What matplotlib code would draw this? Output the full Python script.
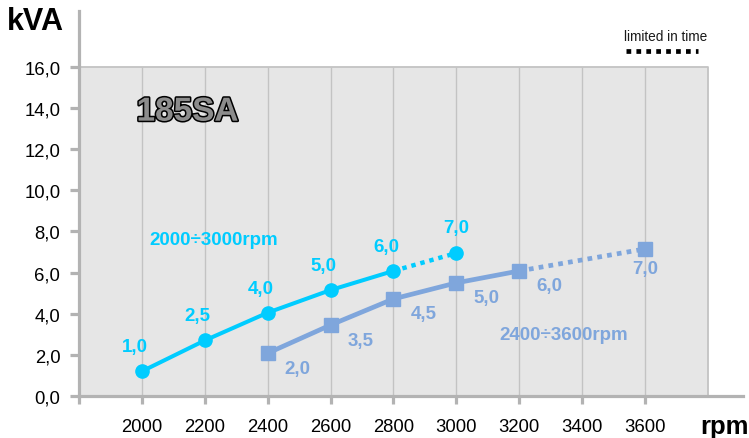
"""Power curve of the 185SA generator: kVA against rpm for two speed ranges."""

import matplotlib

matplotlib.use("Agg")
import matplotlib.pyplot as plt
import matplotlib.patheffects as pe
from matplotlib.lines import Line2D
from matplotlib.patches import Rectangle

plt.rcParams["font.family"] = ["Liberation Sans", "DejaVu Sans"]

# low range 2000-3000 rpm (last segment is "limited in time")
low_rpm = [2000, 2200, 2400, 2600, 2800, 3000]
low_kva = [1.2, 2.7, 4.05, 5.15, 6.08, 6.95]
low_labels = ["1,0", "2,5", "4,0", "5,0", "6,0", "7,0"]

# high range 2400-3600 rpm (last segment is "limited in time")
high_rpm = [2400, 2600, 2800, 3000, 3200, 3600]
high_kva = [2.08, 3.45, 4.72, 5.5, 6.08, 7.15]
high_labels = ["2,0", "3,5", "4,5", "5,0", "6,0", "7,0"]

x_ticks = [1800, 2000, 2200, 2400, 2600, 2800, 3000, 3200, 3400, 3600]
x_tick_labels = ["", "2000", "2200", "2400", "2600", "2800", "3000", "3200", "3400", "3600"]
y_ticks = [0, 2, 4, 6, 8, 10, 12, 14, 16]
y_tick_labels = ["0,0", "2,0", "4,0", "6,0", "8,0", "10,0", "12,0", "14,0", "16,0"]

CYAN = "#00ccff"
BLUE = "#7fa6dc"
AXIS = "#b3b3b3"
GRID = "#c3c3c3"
LABEL_SIZE = 13.5


def main() -> None:
    fig = plt.figure(figsize=(7.49, 4.39), dpi=100)
    ax = fig.add_axes([79 / 749, 42 / 439, 664 / 749, 385 / 439])
    ax.set_facecolor("white")
    ax.set_xlim(1800, 3912)
    ax.set_ylim(0, 18.72)

    # gray plotting panel with vertical grid
    ax.add_patch(Rectangle((1800, 0), 2000, 16, facecolor="#e6e6e6", edgecolor="none", zorder=0))
    ax.plot([1800, 3800, 3800], [16, 16, 0], color=GRID, lw=1.3, zorder=1)
    ax.vlines(x_ticks[1:], 0, 16, color=GRID, lw=1.0, zorder=1)

    for side in ("top", "right"):
        ax.spines[side].set_visible(False)
    for side in ("left", "bottom"):
        ax.spines[side].set_color(AXIS)
        ax.spines[side].set_linewidth(2.3)

    ax.set_xticks(x_ticks, x_tick_labels)
    ax.set_yticks(y_ticks, y_tick_labels)
    ax.tick_params(axis="x", length=6, width=2.3, color=AXIS, pad=10, labelsize=13.3)
    ax.tick_params(axis="y", length=6.5, width=2.3, color=AXIS, pad=7, labelsize=13.3)

    # low range curve
    ax.plot(low_rpm[:-1], low_kva[:-1], color=CYAN, lw=2.9, marker="o", ms=9.5, zorder=4)
    ax.plot(low_rpm[-2:], low_kva[-2:], color=CYAN, lw=3.2, ls=(0, (1, 1.1)), dash_capstyle="butt", zorder=3)
    ax.plot(low_rpm[-1], low_kva[-1], color=CYAN, marker="o", ms=9.5, zorder=4)
    for x, y, text in zip(low_rpm[:-1], low_kva[:-1], low_labels[:-1]):
        ax.annotate(text, (x, y), xytext=(-7, 16), textcoords="offset pixels", ha="center", va="bottom",
                    color=CYAN, fontsize=LABEL_SIZE, fontweight="bold")
    ax.annotate(low_labels[-1], (low_rpm[-1], low_kva[-1]), xytext=(0, 17), textcoords="offset pixels",
                ha="center", va="bottom", color=CYAN, fontsize=LABEL_SIZE, fontweight="bold")

    # high range curve
    ax.plot(high_rpm[:-1], high_kva[:-1], color=BLUE, lw=3.4, marker="s", ms=10, zorder=4)
    ax.plot(high_rpm[-2:], high_kva[-2:], color=BLUE, lw=3.4, ls=(0, (1, 1.1)), dash_capstyle="butt", zorder=3)
    ax.plot(high_rpm[-1], high_kva[-1], color=BLUE, marker="s", ms=10, zorder=4)
    for x, y, text in zip(high_rpm[:-1], high_kva[:-1], high_labels[:-1]):
        ax.annotate(text, (x, y), xytext=(30, -15), textcoords="offset pixels", ha="center", va="center",
                    color=BLUE, fontsize=LABEL_SIZE, fontweight="bold")
    ax.annotate(high_labels[-1], (high_rpm[-1], high_kva[-1]), xytext=(0, -20), textcoords="offset pixels",
                ha="center", va="center", color=BLUE, fontsize=LABEL_SIZE, fontweight="bold")

    ax.text(2025, 7.6, "2000÷3000rpm", color=CYAN, fontsize=13.5, fontweight="bold", va="center")
    ax.text(3138, 3.0, "2400÷3600rpm", color=BLUE, fontsize=13.5, fontweight="bold", va="center")

    ax.text(1983, 13.8, "185SA", fontsize=24, fontweight="bold", color="#8c8c8c", va="center",
            path_effects=[pe.withStroke(linewidth=2.2, foreground="black")])

    # axis titles and "limited in time" key
    fig.text(7 / 749, 1 - 22 / 439, "kVA", fontsize=22, fontweight="bold", va="center", ha="left")
    fig.text(749 / 749, 1 - 427 / 439, "rpm", fontsize=18.5, fontweight="bold", va="center", ha="right")
    fig.text(666 / 749, 1 - 37 / 439, "limited in time", fontsize=9.8, va="center", ha="center", color="#1a1a1a")
    fig.add_artist(Line2D([626 / 749, 698 / 749], [1 - 52 / 439, 1 - 52 / 439], color="black", lw=3.4,
                          ls=(0, (1, 1.1)), dash_capstyle="butt"))

    fig.savefig("out.png", dpi=100, facecolor="white")
    plt.close(fig)


if __name__ == "__main__":
    main()
